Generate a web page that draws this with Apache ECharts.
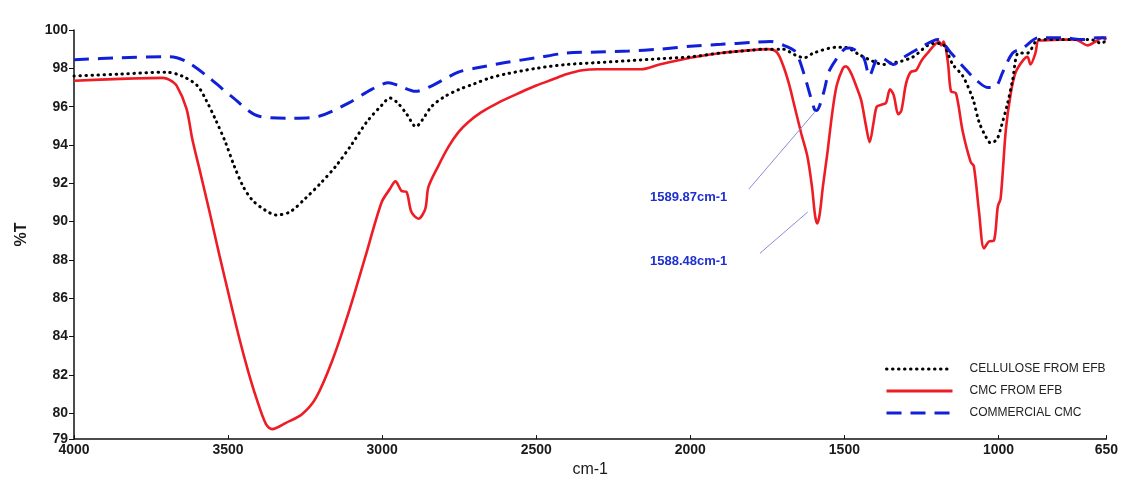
<!DOCTYPE html>
<html>
<head>
<meta charset="utf-8">
<title>FTIR spectra</title>
<script src="https://cdn.jsdelivr.net/npm/echarts@6/dist/echarts.min.js"></script>
<style>
  html, body { margin: 0; padding: 0; background: #fff; }
  #chart { width: 1121px; height: 483px; }
</style>
</head>
<body>
<div id="chart"></div>
<script>
// wavenumber (cm-1) and transmittance (%T)
const cellWn = [4000, 3850, 3700, 3650, 3600, 3570, 3540, 3510, 3480, 3450, 3420, 3380, 3345, 3300, 3250, 3200, 3150, 3100, 3050, 3000, 2975, 2950, 2920, 2890, 2870, 2840, 2800, 2750, 2700, 2650, 2600, 2500, 2400, 2300, 2200, 2100, 2000, 1900, 1800, 1760, 1700, 1660, 1630, 1600, 1525, 1500, 1450, 1405, 1374, 1345, 1320, 1277, 1212, 1186, 1148, 1116, 1083, 1063, 1040, 1025, 1005, 992, 970, 954, 935, 906, 870, 800, 700, 665, 650]
const cellT = [97.6, 97.7, 97.8, 97.6, 97.1, 96.3, 95.3, 94.2, 92.9, 91.8, 91.1, 90.6, 90.35, 90.5, 91.2, 92.0, 92.9, 94.0, 95.2, 96.1, 96.45, 96.2, 95.6, 94.95, 95.3, 96.0, 96.5, 96.9, 97.2, 97.5, 97.7, 98.0, 98.2, 98.3, 98.4, 98.5, 98.6, 98.8, 98.95, 99.0, 99.0, 98.7, 98.55, 98.8, 99.1, 99.1, 98.7, 98.35, 98.2, 98.3, 98.35, 98.6, 99.3, 99.3, 98.2, 97.6, 96.4, 95.2, 94.4, 94.1, 94.3, 94.9, 96.2, 97.4, 98.8, 98.8, 99.5, 99.5, 99.5, 99.3, 99.5]

const cmcWn = [4000, 3850, 3712, 3690, 3667, 3635, 3616, 3593, 3560, 3528, 3495, 3464, 3435, 3409, 3377, 3357, 3312, 3260, 3215, 3163, 3108, 3054, 3002, 2975, 2957, 2937, 2921, 2905, 2882, 2860, 2850, 2818, 2785, 2753, 2720, 2679, 2624, 2550, 2500, 2450, 2400, 2350, 2300, 2200, 2160, 2100, 2000, 1900, 1800, 1750, 1720, 1700, 1680, 1660, 1640, 1620, 1605, 1595, 1588, 1580, 1570, 1555, 1540, 1525, 1505, 1495, 1480, 1460, 1445, 1430, 1418, 1405, 1395, 1380, 1365, 1352, 1340, 1325, 1315, 1300, 1285, 1267, 1250, 1230, 1209, 1193, 1186, 1178, 1164, 1154, 1138, 1116, 1090, 1080, 1063, 1047, 1031, 1015, 1002, 993, 976, 960, 944, 921, 906, 896, 880, 870, 850, 800, 750, 711, 685, 663, 650]
const cmcT = [97.35, 97.45, 97.5, 97.4, 97.1, 95.9, 94.3, 92.75, 90.5, 88.24, 86.0, 83.94, 82.2, 80.83, 79.43, 79.17, 79.5, 79.95, 80.8, 82.7, 85.3, 88.2, 91.0, 91.7, 92.1, 91.6, 91.55, 90.5, 90.15, 90.67, 91.8, 92.9, 93.9, 94.66, 95.2, 95.7, 96.2, 96.75, 97.1, 97.4, 97.7, 97.9, 97.95, 97.95, 97.95, 98.2, 98.55, 98.8, 98.95, 99.0, 98.85, 98.2, 97.2, 95.9, 94.6, 93.4, 91.8, 90.3, 89.9, 90.4, 91.8, 93.6, 95.6, 97.1, 98.0, 98.1, 97.8, 97.0, 96.3, 95.0, 94.15, 95.2, 96.0, 96.1, 96.2, 96.9, 96.6, 95.6, 95.8, 97.2, 97.8, 97.9, 98.4, 98.8, 99.2, 99.4, 99.2, 99.4, 98.3, 96.8, 96.7, 94.7, 93.1, 92.9, 90.5, 88.6, 88.96, 89.0, 90.8, 91.2, 94.8, 96.7, 97.8, 98.4, 98.6, 98.2, 98.8, 99.45, 99.45, 99.5, 99.5, 99.2, 99.4, 99.6, 99.5]

const comWn = [4000, 3850, 3690, 3635, 3561, 3486, 3399, 3292, 3205, 3108, 3034, 2979, 2947, 2892, 2850, 2753, 2700, 2600, 2500, 2400, 2300, 2200, 2100, 2000, 1900, 1800, 1740, 1697, 1670, 1655, 1629, 1597, 1590, 1568, 1548, 1503, 1484, 1439, 1419, 1396, 1380, 1341, 1310, 1257, 1196, 1154, 1115, 1073, 1035, 1020, 1005, 986, 954, 921, 870, 800, 720, 680, 650]
const comT = [98.45, 98.55, 98.6, 98.35, 97.5, 96.5, 95.5, 95.4, 95.5, 96.2, 96.9, 97.25, 97.1, 96.8, 97.0, 97.8, 98.0, 98.3, 98.55, 98.8, 98.85, 98.9, 99.0, 99.15, 99.25, 99.35, 99.4, 99.2, 99.0, 98.8, 97.6, 95.85, 95.8, 96.7, 97.9, 98.96, 99.06, 98.6, 97.6, 98.45, 98.55, 98.2, 98.55, 99.05, 99.5, 98.8, 98.1, 97.4, 97.0, 97.0, 97.1, 97.8, 98.8, 99.05, 99.6, 99.6, 99.5, 99.6, 99.6]

const seriesNames = ['CELLULOSE FROM EFB', 'CMC FROM EFB', 'COMMERCIAL CMC']
const xTicks = [650, 1000, 1500, 2000, 2500, 3000, 3500, 4000]
const yTicks = [78.65, 80, 82, 84, 86, 88, 90, 92, 94, 96, 98, 100]

// peak callouts: text plus leader line in data coordinates
const peakLabels = ['1589.87cm-1', '1588.48cm-1']
const peakLeaders = [
  [[1810, 91.7], [1597, 95.7]],
  [[1774, 88.35], [1619, 90.5]]
]

function pairs (wn, t) {
  return wn.map((w, i) => [w, t[i]])
}

const chart = echarts.init(document.getElementById('chart'))

const axisFont = {
  fontFamily: 'Liberation Sans, Arial, sans-serif',
  fontWeight: 'bold',
  fontSize: 14,
  color: '#1a1a1a'
}

chart.setOption({
  animation: false,
  backgroundColor: '#fff',
  grid: { left: 74, right: 10, top: 30, bottom: 41 },
  legend: {
    orient: 'vertical',
    left: 880,
    top: 358,
    itemWidth: 66,
    itemHeight: 14,
    itemGap: 10,
    data: seriesNames,
    // line sample only, no marker dot
    itemStyle: { opacity: 0 },
    lineStyle: { width: 3 },
    textStyle: {
      fontFamily: 'Liberation Sans, Arial, sans-serif',
      fontSize: 12,
      color: '#222',
      padding: [0, 0, 0, 12]
    }
  },
  xAxis: {
    type: 'value',
    inverse: true,
    min: 650,
    max: 4000,
    name: 'cm-1',
    nameLocation: 'middle',
    nameGap: 22,
    nameTextStyle: {
      fontFamily: 'Liberation Sans, Arial, sans-serif',
      fontSize: 16,
      color: '#1a1a1a'
    },
    axisLine: { onZero: false, lineStyle: { color: '#111', width: 1.5 } },
    axisTick: { inside: true, length: 4, customValues: xTicks, lineStyle: { color: '#111' } },
    axisLabel: Object.assign({
      margin: 4,
      customValues: xTicks,
      formatter: (v) => String(v)
    }, axisFont),
    splitLine: { show: false }
  },
  yAxis: {
    type: 'value',
    min: 78.65,
    max: 100,
    name: '%T',
    nameLocation: 'middle',
    nameGap: 44,
    nameTextStyle: {
      fontFamily: 'Liberation Sans, Arial, sans-serif',
      fontWeight: 'bold',
      fontSize: 16,
      color: '#1a1a1a'
    },
    axisLine: { show: true, onZero: false, lineStyle: { color: '#111', width: 1.5 } },
    axisTick: { show: true, length: 5, customValues: yTicks, lineStyle: { color: '#111' } },
    axisLabel: Object.assign({
      margin: 6,
      customValues: yTicks,
      formatter: (v) => (v < 79.5 ? '79' : String(Math.round(v)))
    }, axisFont),
    splitLine: { show: false }
  },
  graphic: [
    {
      type: 'text',
      left: 650,
      top: 191,
      style: {
        text: peakLabels[0],
        fill: '#1f2fd0',
        font: 'bold 13px "Liberation Sans", Arial, sans-serif'
      }
    },
    {
      type: 'text',
      left: 650,
      top: 255,
      style: {
        text: peakLabels[1],
        fill: '#1f2fd0',
        font: 'bold 13px "Liberation Sans", Arial, sans-serif'
      }
    }
  ],
  series: [
    {
      name: seriesNames[0],
      type: 'line',
      symbol: 'none',
      smooth: 0.3,
      z: 3,
      data: pairs(cellWn, cellT),
      lineStyle: { color: '#000', width: 3, type: [0.5, 5.5], cap: 'round' },
      itemStyle: { color: '#000' }
    },
    {
      name: seriesNames[1],
      type: 'line',
      symbol: 'none',
      smooth: 0.3,
      z: 2,
      data: pairs(cmcWn, cmcT),
      lineStyle: { color: '#ee1c25', width: 2.6 },
      itemStyle: { color: '#ee1c25' },
      markLine: {
        silent: true,
        symbol: 'none',
        label: { show: false },
        lineStyle: { color: '#8c8cd8', width: 1, type: 'solid' },
        data: peakLeaders.map((seg) => [{ coord: seg[0] }, { coord: seg[1] }])
      }
    },
    {
      name: seriesNames[2],
      type: 'line',
      symbol: 'none',
      smooth: 0.3,
      z: 4,
      data: pairs(comWn, comT),
      lineStyle: { color: '#1020d8', width: 3, type: [15, 9] },
      itemStyle: { color: '#1020d8' }
    }
  ]
})
</script>
</body>
</html>
